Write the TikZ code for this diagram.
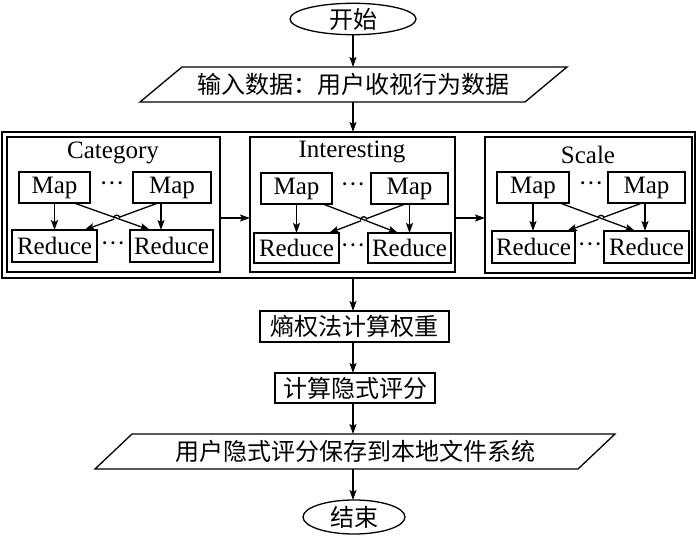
\documentclass[tikz,border=0pt]{standalone}
\usepackage{fontspec}
\setmainfont{Liberation Serif}
\newfontfamily\cjk{Noto Sans CJK SC}
\usetikzlibrary{arrows.meta,shapes.geometric,calc,intersections}
\begin{document}
\begin{tikzpicture}[x=1pt,y=-1pt,
  every node/.style={inner sep=0pt, outer sep=0pt},
  lbl/.style={font=\fontsize{25}{28}\selectfont},
  cn/.style={font=\cjk\fontsize{24}{28}\selectfont},
  bx/.style={draw, line width=1.3pt, lbl},
  cbx/.style={draw, line width=1.3pt, cn},
  arr/.style={-{Stealth[length=10pt,width=7pt,inset=2pt]}, line width=1.3pt},
  ln/.style={line width=1.3pt}]
\useasboundingbox (0,0) rectangle (700,537);

% start
\node[ellipse, draw, line width=1.3pt, cn, minimum width=126pt, minimum height=28pt] (start) at (353,19) {开始};
% input parallelogram
\node[cn, minimum width=385pt, minimum height=35pt] (input) at (353.5,84.5) {输入数据：用户收视行为数据};
\draw[ln] ($(input.north west)+(21,0)$) -- ($(input.north east)+(21,0)$) -- ($(input.south east)+(-21,0)$) -- ($(input.south west)+(-21,0)$) -- cycle;

% outer box
\node[draw, line width=1.3pt, minimum width=693pt, minimum height=146pt] (outer) at (348.5,205) {};

% ---------- Category ----------
\node[draw, line width=1.3pt, minimum width=213pt, minimum height=135pt] (cat) at (113.5,204.5) {};
\node[lbl] (catT) at (113,153) {Category};
\node[bx,minimum width=71pt,minimum height=31pt] (cm1) at (54.5,187.5) {Map};
\node[bx,minimum width=78pt,minimum height=31pt] (cm2) at (172,187.5) {Map};
\node[bx,minimum width=85pt,minimum height=32pt] (cr1) at (54.5,246) {Reduce};
\node[bx,minimum width=83pt,minimum height=32pt] (cr2) at (171.5,246) {Reduce};
\node[lbl] (cd1) at (112,187) {···};
\node[lbl] (cd2) at (113,247) {···};
\draw[arr] (cm1.south) -- (cm1.south |- cr1.north);
\draw[arr] ([xshift=-11pt]cm2.south) -- ([xshift=-10.5pt]cr2.north);
\path[name path=ca] ([xshift=19.5pt]cm1.south) -- ([xshift=-21.5pt]cr2.north);
\path[name path=cb] ([xshift=-14pt]cm2.south) -- ([xshift=30pt]cr1.north);
\path[name intersections={of=ca and cb, by=cx}];
\draw[arr] ([xshift=-14pt]cm2.south) -- ([xshift=30pt]cr1.north);
\fill[white] (cx) circle[radius=3pt];
\draw[arr] ([xshift=19.5pt]cm1.south) -- ([xshift=-21.5pt]cr2.north);
\draw[ln] ([xshift=-3pt]cx) .. controls ([xshift=-3pt,yshift=4pt]cx) and ([xshift=3pt,yshift=4pt]cx) .. ([xshift=3pt]cx);

% ---------- Interesting ----------
\node[draw, line width=1.3pt, minimum width=205pt, minimum height=135pt] (int) at (352.5,204.5) {};
\node[lbl] (intT) at (352,152) {Interesting};
\node[bx,minimum width=71pt,minimum height=31pt] (im1) at (296.5,188.5) {Map};
\node[bx,minimum width=77pt,minimum height=31pt] (im2) at (409.5,188.5) {Map};
\node[bx,minimum width=85pt,minimum height=30pt] (ir1) at (296.5,248) {Reduce};
\node[bx,minimum width=83pt,minimum height=30pt] (ir2) at (409.5,248) {Reduce};
\node[lbl] (id1) at (353,188) {···};
\node[lbl] (id2) at (353,249) {···};
\draw[arr] (im1.south) -- (im1.south |- ir1.north);
\draw[arr] (im2.south) -- (im2.south |- ir2.north);
\path[name path=ia] ([xshift=26.5pt]im1.south) -- ([xshift=-11.5pt]ir2.north);
\path[name path=ib] ([xshift=-4.5pt]im2.south) -- ([xshift=32.5pt]ir1.north);
\path[name intersections={of=ia and ib, by=ix}];
\draw[arr] ([xshift=-4.5pt]im2.south) -- ([xshift=32.5pt]ir1.north);
\fill[white] (ix) circle[radius=3pt];
\draw[arr] ([xshift=26.5pt]im1.south) -- ([xshift=-11.5pt]ir2.north);
\draw[ln] ([xshift=-3pt]ix) .. controls ([xshift=-3pt,yshift=4pt]ix) and ([xshift=3pt,yshift=4pt]ix) .. ([xshift=3pt]ix);

% ---------- Scale ----------
\node[draw, line width=1.3pt, minimum width=207pt, minimum height=136pt] (sca) at (588.5,205) {};
\node[lbl] (scaT) at (588,155) {Scale};
\node[bx,minimum width=72pt,minimum height=31pt] (sm1) at (533,187.5) {Map};
\node[bx,minimum width=77pt,minimum height=31pt] (sm2) at (646.5,187.5) {Map};
\node[bx,minimum width=83pt,minimum height=32pt] (sr1) at (533.5,247) {Reduce};
\node[bx,minimum width=85pt,minimum height=32pt] (sr2) at (646.5,247) {Reduce};
\node[lbl] (sd1) at (591,187) {···};
\node[lbl] (sd2) at (590,248) {···};
\draw[arr] (sm1.south) -- (sm1.south |- sr1.north);
\draw[arr] ([xshift=-1.5pt]sm2.south) -- ([xshift=-1.5pt]sr2.north);
\path[name path=sa] ([xshift=27pt]sm1.south) -- ([xshift=-11.5pt]sr2.north);
\path[name path=sb] ([xshift=-4.5pt]sm2.south) -- ([xshift=33.5pt]sr1.north);
\path[name intersections={of=sa and sb, by=sx}];
\draw[arr] ([xshift=-4.5pt]sm2.south) -- ([xshift=33.5pt]sr1.north);
\fill[white] (sx) circle[radius=3pt];
\draw[arr] ([xshift=27pt]sm1.south) -- ([xshift=-11.5pt]sr2.north);
\draw[ln] ([xshift=-3pt]sx) .. controls ([xshift=-3pt,yshift=4pt]sx) and ([xshift=3pt,yshift=4pt]sx) .. ([xshift=3pt]sx);

% arrows between groups
\draw[arr] ([yshift=-13.5pt]cat.east) -- ([yshift=-13.5pt]cat.east -| int.west);
\draw[arr] ([yshift=-13.5pt]int.east) -- ([yshift=-13.5pt]int.east -| sca.west);

% lower flow
\node[cbx, minimum width=189pt, minimum height=31pt] (ent) at (354.5,326.5) {熵权法计算权重};
\node[cbx, minimum width=160pt, minimum height=30pt] (calc) at (355,388) {计算隐式评分};
\node[cn, minimum width=483pt, minimum height=35pt] (output) at (355,451.5) {用户隐式评分保存到本地文件系统};
\draw[ln] ($(output.north west)+(18.5,0)$) -- ($(output.north east)+(18.5,0)$) -- ($(output.south east)+(-18.5,0)$) -- ($(output.south west)+(-18.5,0)$) -- cycle;
\node[ellipse, draw, line width=1.3pt, cn, minimum width=102pt, minimum height=34pt] (stop) at (354,517) {结束};

% main vertical arrows
\draw[arr] (start.south) -- (start.south |- input.north);
\draw[arr] (start.south |- input.south) -- (start.south |- outer.north);
\draw[arr] (start.south |- outer.south) -- (start.south |- ent.north);
\draw[arr] (start.south |- ent.south) -- (start.south |- calc.north);
\draw[arr] (start.south |- calc.south) -- (start.south |- output.north);
\draw[arr] (start.south |- output.south) -- (start.south |- stop.north);
\end{tikzpicture}
\end{document}
